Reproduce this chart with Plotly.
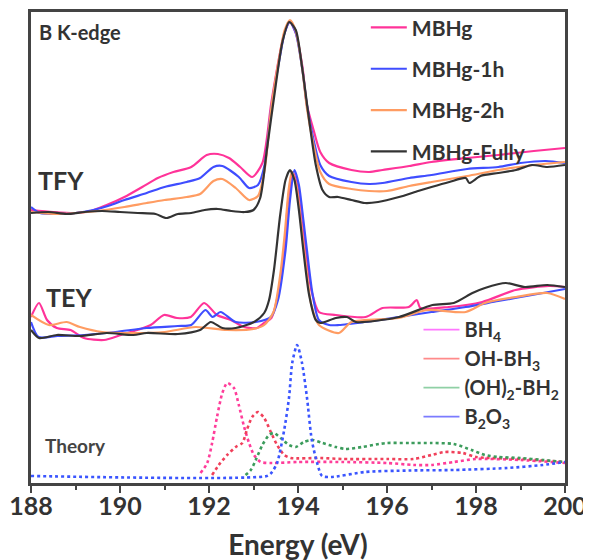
import plotly.graph_objects as go

# ---------------- data (energy in eV, intensity in arbitrary units, offsets included) ----------------
# TFY
tfy_mbhg_e = [188.0,188.5,189.0,189.35,189.7,190.1,190.5,190.85,191.2,191.6,191.95,192.2,192.45,192.7,192.97,193.2,193.4,193.6,193.7,193.82,193.95,194.1,194.2,194.35,194.5,194.7,195.2,195.6,195.9,196.5,197.0,197.8,198.5,199.3,200.0]
tfy_mbhg_i = [273,271,270,272,278,286,296,305,311,316,328,329,325,316,306,320,380,431,451,461,450,416,378,353,331,320,313,311,313,317,321,325,328,332,335]

tfy_1h_e = [188.0,188.2,188.6,189.0,189.4,189.8,190.1,190.6,191.0,191.5,191.8,192.1,192.3,192.67,192.9,193.1,193.25,193.4,193.6,193.7,193.82,193.95,194.1,194.2,194.35,194.5,194.7,195.2,195.6,195.9,196.5,197.0,197.8,198.5,199.0,199.57,200.0]
tfy_1h_i = [276,270,269,270,273,278,283,290,296,301,305,316,317,306,295,298,318,375,428,450,461,450,413,378,343,318,307,301,299,300,305,308,314,316,320,322,320]

tfy_2h_e = [188.0,188.5,189.0,189.5,190.1,190.6,191.0,191.5,191.8,192.1,192.3,192.6,192.9,193.1,193.25,193.4,193.6,193.7,193.82,193.95,194.1,194.2,194.35,194.5,194.7,195.2,195.6,196.0,196.5,197.0,197.8,198.5,199.3,200.0]
tfy_2h_i = [271,269,270,272,276,280,283,286,289,302,304,295,283,287,313,375,431,453,463,452,413,375,338,311,299,294,292,292,297,301,307,313,318,321]

tfy_full_e = [188.0,188.4,188.8,189.2,189.6,190.0,190.4,190.8,191.05,191.3,191.6,191.9,192.2,192.5,192.8,193.0,193.15,193.3,193.5,193.65,193.8,193.95,194.1,194.25,194.4,194.55,194.7,194.9,195.2,195.5,195.8,196.27,196.7,197.0,197.4,197.77,197.85,198.1,198.5,198.9,199.26,199.6,200.0]
tfy_full_i = [270,271,269,271,272,271,270,269,265,269,270,273,274,272,271,273,285,333,398,441,461,453,413,363,318,293,286,286,283,280,281,286,292,296,301,305,300,307,310,313,318,316,318]

# TEY
tey_mbhg_e = [188.0,188.18,188.36,188.58,188.89,189.19,189.64,190.02,190.39,190.69,190.99,191.28,191.59,191.89,192.18,192.49,192.79,193.08,193.24,193.4,193.55,193.69,193.78,193.88,193.98,194.08,194.17,194.3,194.47,194.85,195.52,195.9,196.49,196.67,196.75,197.39,198.14,198.89,199.64,200.0]
tey_mbhg_i = [166,180,163,155,153,145,143,148,153,158,168,165,166,180,168,163,156,155,160,165,188,233,283,311,298,263,233,193,171,168,166,175,176,183,175,176,181,193,197,196]

tey_1h_e = [188.0,188.17,188.6,189.2,189.9,190.6,191.3,191.6,191.92,192.08,192.26,192.6,193.05,193.39,193.55,193.72,193.82,193.92,194.02,194.12,194.2,194.33,194.47,194.7,194.92,195.5,196.27,197.0,197.77,198.5,199.26,200.0]
tey_1h_i = [161,146,147,148,151,155,157,158,173,166,171,161,161,166,183,233,283,313,298,263,233,188,163,158,158,161,166,171,176,182,188,194]

tey_2h_e = [188.0,188.4,188.8,189.1,189.6,190.3,191.0,191.7,192.4,193.0,193.24,193.45,193.6,193.7,193.79,193.86,193.96,194.06,194.15,194.3,194.47,194.92,195.2,196.27,196.9,197.77,198.2,198.9,199.6,200.0]
tey_2h_i = [168,158,161,156,151,150,151,156,153,154,158,171,208,248,293,311,298,263,228,178,158,150,161,165,173,171,180,186,190,184]

tey_full_e = [188.0,188.18,188.58,189.1,189.7,190.3,190.6,191.3,191.8,192.04,192.3,192.6,193.01,193.24,193.35,193.46,193.6,193.72,193.82,193.92,194.02,194.12,194.25,194.4,194.5,194.85,195.1,195.3,196.27,197.02,197.5,197.92,198.2,198.67,199.1,199.6,200.0]
tey_full_i = [153,145,148,147,150,148,150,149,153,161,155,155,161,170,183,213,268,303,313,303,273,233,188,163,160,165,166,161,166,178,180,190,195,200,196,198,196]

# Theory
th_bh4_e = [191.81,191.96,192.07,192.18,192.3,192.41,192.56,192.67,192.79,192.9,193.01,193.16,193.42,194.0,195.0,196.0,196.6,197.0,197.5,198.0,199.0,200.0]
th_bh4_i = [10,20,40,66,90,100,95,78,56,40,28,21,20,21,21,20,18,18,21,24,23,20]

th_ohbh3_e = [192.07,192.22,192.41,192.6,192.75,192.85,192.97,193.1,193.24,193.39,193.53,193.69,193.84,194.5,195.0,196.0,196.6,197.0,197.3,197.7,198.0,199.0,200.0]
th_ohbh3_i = [8,18,28,36,40,53,66,71,65,51,38,28,25,25,24,24,24,28,31,30,26,24,21]

th_oh2bh2_e = [192.82,192.94,193.05,193.2,193.35,193.46,193.61,193.8,193.95,194.13,194.32,194.55,194.85,195.07,195.44,195.82,196.0,196.5,197.0,197.5,197.9,198.2,198.5,199.0,199.5,200.0]
th_oh2bh2_i = [8,13,23,38,48,50,45,38,36,41,43,40,36,34,36,39,40,40,40,39,33,28,26,25,23,21]

th_b2o3_e = [188.0,193.3,193.4,193.53,193.69,193.8,193.87,193.98,194.09,194.2,194.31,194.43,194.54,194.75,195.5,196.5,197.5,198.7,199.5,200.0]
th_b2o3_i = [7,7,10,20,53,86,120,138,120,86,43,20,7,6,11,12.5,13,15,18,21]

tick_values = [188, 190, 192, 194, 196, 198, 200]
tick_labels = ["188", "190", "192", "194", "196", "198", "200"]

series_names = ["MBHg", "MBHg-1h", "MBHg-2h", "MBHg-Fully"]
series_colors = ["#ff3399", "#3f4dff", "#ff9c62", "#333333"]
theory_names = ["BH<sub>4</sub>", "OH-BH<sub>3</sub>", "(OH)<sub>2</sub>-BH<sub>2</sub>", "B<sub>2</sub>O<sub>3</sub>"]
theory_colors = ["#ff3d9a", "#f0405a", "#3c9c5c", "#3a55ff"]
theory_legend_colors = ["#ff77ff", "#ff8a8a", "#8fd0a5", "#7b7bff"]

tfy = [(tfy_mbhg_e, tfy_mbhg_i), (tfy_1h_e, tfy_1h_i), (tfy_2h_e, tfy_2h_i), (tfy_full_e, tfy_full_i)]
tey = [(tey_mbhg_e, tey_mbhg_i), (tey_1h_e, tey_1h_i), (tey_2h_e, tey_2h_i), (tey_full_e, tey_full_i)]
theory = [(th_bh4_e, th_bh4_i), (th_ohbh3_e, th_ohbh3_i), (th_oh2bh2_e, th_oh2bh2_i), (th_b2o3_e, th_b2o3_i)]

FONT = "Lato"
fig = go.Figure()

for k, name in enumerate(series_names):
    e, i = tfy[k]
    fig.add_trace(go.Scatter(x=e, y=i, mode="lines", name="<b>" + name + "</b>", legendgroup=name,
                             line=dict(color=series_colors[k], width=2.2, shape="spline", smoothing=0.7)))
for k, name in enumerate(series_names):
    e, i = tey[k]
    fig.add_trace(go.Scatter(x=e, y=i, mode="lines", name=name, legendgroup=name, showlegend=False,
                             line=dict(color=series_colors[k], width=2.2, shape="spline", smoothing=0.7)))
for k, name in enumerate(theory_names):
    e, i = theory[k]
    fig.add_trace(go.Scatter(x=e, y=i, mode="lines", name=name, showlegend=False,
                             line=dict(color=theory_colors[k], width=2.6, dash="dot", shape="spline", smoothing=0.7)))
for k, name in enumerate(theory_names):
    fig.add_trace(go.Scatter(x=[None], y=[None], mode="lines", name="<b>" + name + "</b>", legend="legend2",
                             legendgroup="th" + str(k),
                             line=dict(color=theory_legend_colors[k], width=1.6)))

annotations = [
    dict(x=188.14, y=451, text="<b>B K-edge</b>", font=dict(size=20, color="#333")),
    dict(x=188.12, y=303, text="<b>TFY</b>", font=dict(size=25, color="#333")),
    dict(x=188.3, y=186, text="<b>TEY</b>", font=dict(size=25, color="#333")),
    dict(x=188.27, y=38, text="<b>Theory</b>", font=dict(size=19, color="#444")),
]
for a in annotations:
    a.update(xref="x", yref="y", showarrow=False, xanchor="left", yanchor="middle", font_family=FONT)

fig.update_layout(
    width=591, height=560,
    margin=dict(l=23, r=34, t=4, b=85, autoexpand=False),
    paper_bgcolor="white", plot_bgcolor="white",
    font=dict(family=FONT, color="#333"),
    annotations=annotations,
    legend=dict(x=0.627, y=1.01, xanchor="left", yanchor="top", bgcolor="rgba(0,0,0,0)",
                font=dict(size=21, family=FONT, color="#333"),
                tracegroupgap=11, itemwidth=36),
    legend2=dict(x=0.999, y=0.367, xanchor="right", yanchor="top", bgcolor="rgba(0,0,0,0)",
                 font=dict(size=20, family=FONT, color="#333"),
                 tracegroupgap=0, itemwidth=36),
    showlegend=True,
)
fig.update_xaxes(range=[188, 200], tickvals=tick_values, ticktext=["<b>" + t + "</b>" for t in tick_labels],
                 ticks="outside", ticklen=7, tickwidth=2, tickcolor="#444", automargin=False,
                 ticklabelstandoff=-8,
                 minor=dict(dtick=1, ticks="outside", ticklen=4, tickwidth=1.5, tickcolor="#444"),
                 showline=True, linewidth=2.5, linecolor="#444", mirror=True,
                 showgrid=False, zeroline=False,
                 tickfont=dict(size=25, family=FONT, color="#333"),
                 title=dict(text="<b>Energy (eV)</b>", font=dict(size=28, family=FONT, color="#333"), standoff=17))
fig.update_yaxes(range=[0, 471], showticklabels=False, ticks="", showline=True, linewidth=2.5,
                 linecolor="#444", mirror=True, showgrid=False, zeroline=False, automargin=False)

fig.write_html("out.html")
